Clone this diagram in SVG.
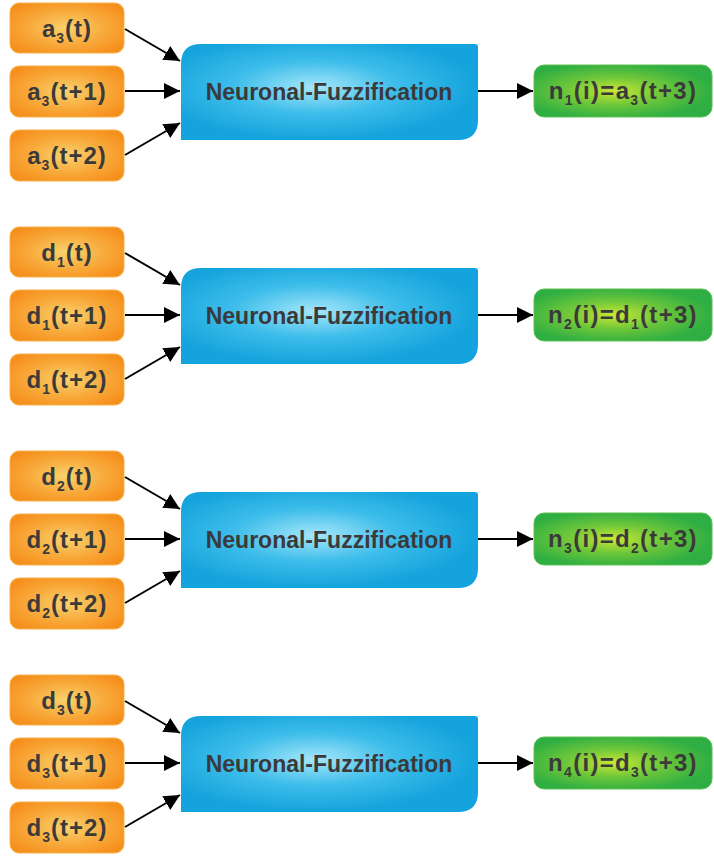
<svg xmlns="http://www.w3.org/2000/svg" width="714" height="858" viewBox="0 0 714 858">
<defs>
<radialGradient id="gOr" cx="50%" cy="50%" r="60%">
<stop offset="0" stop-color="#f9d36e"/>
<stop offset="0.55" stop-color="#f8aa3c"/>
<stop offset="1" stop-color="#f6901c"/>
</radialGradient>
<radialGradient id="gBl" cx="45%" cy="45%" r="55%">
<stop offset="0" stop-color="#a6e6fa"/>
<stop offset="0.5" stop-color="#3dbdea"/>
<stop offset="1" stop-color="#14a3dc"/>
</radialGradient>
<radialGradient id="gGr" cx="45%" cy="50%" r="55%">
<stop offset="0" stop-color="#c9e634"/>
<stop offset="0.5" stop-color="#6cc63a"/>
<stop offset="1" stop-color="#2eae43"/>
</radialGradient>
<marker id="ah" viewBox="0 0 10 10" refX="10" refY="5" markerWidth="8" markerHeight="8" markerUnits="strokeWidth" orient="auto">
<path d="M0,0 L10,5 L0,10 Z" fill="#000"/>
</marker>
<path id="blue" d="M181,64 Q181,44 201,44 L475,44 Q478,44 478,47 L478,120 Q478,140 458,140 L181,140 Z"/>
</defs>
<style>
.in{fill:url(#gOr);stroke:#f7b04a;stroke-width:1}
.bl{fill:url(#gBl)}
.gr{fill:url(#gGr);stroke:#5cc050;stroke-width:1}
text{font-family:"Liberation Sans",Arial,sans-serif;font-weight:bold;fill:#3a3a3a;text-anchor:middle}
.t{font-size:24px;letter-spacing:1px}
.o{font-size:24px;letter-spacing:1.3px}
.s{font-size:14px}
.nf{font-size:23px}
.c line{stroke:#000;stroke-width:2;marker-end:url(#ah)}
</style>

<g id="group1">
<g id="a3t"><rect class="in" x="10" y="3" width="114" height="50" rx="9"/><text class="t" x="67" y="37">a<tspan class="s" dy="6">3</tspan><tspan dy="-6">(t)</tspan></text></g>
<g id="a3t1"><rect class="in" x="10" y="66" width="114" height="51" rx="9"/><text class="t" x="67" y="100">a<tspan class="s" dy="6">3</tspan><tspan dy="-6">(t+1)</tspan></text></g>
<g id="a3t2"><rect class="in" x="10" y="130" width="114" height="51" rx="9"/><text class="t" x="67" y="164">a<tspan class="s" dy="6">3</tspan><tspan dy="-6">(t+2)</tspan></text></g>
<g id="nf1"><use href="#blue" class="bl"/><text class="nf" x="329" y="100">Neuronal-Fuzzification</text></g>
<g id="n1"><rect class="gr" x="534" y="65" width="178" height="52" rx="10"/><text class="o" x="623" y="99">n<tspan class="s" dy="6">1</tspan><tspan dy="-6">(i)=a</tspan><tspan class="s" dy="6">3</tspan><tspan dy="-6">(t+3)</tspan></text></g>
</g>

<g id="group2" transform="translate(0,224)">
<g id="d1t"><rect class="in" x="10" y="3" width="114" height="50" rx="9"/><text class="t" x="67" y="37">d<tspan class="s" dy="6">1</tspan><tspan dy="-6">(t)</tspan></text></g>
<g id="d1t1"><rect class="in" x="10" y="66" width="114" height="51" rx="9"/><text class="t" x="67" y="100">d<tspan class="s" dy="6">1</tspan><tspan dy="-6">(t+1)</tspan></text></g>
<g id="d1t2"><rect class="in" x="10" y="130" width="114" height="51" rx="9"/><text class="t" x="67" y="164">d<tspan class="s" dy="6">1</tspan><tspan dy="-6">(t+2)</tspan></text></g>
<g id="nf2"><use href="#blue" class="bl"/><text class="nf" x="329" y="100">Neuronal-Fuzzification</text></g>
<g id="n2"><rect class="gr" x="534" y="65" width="178" height="52" rx="10"/><text class="o" x="623" y="99">n<tspan class="s" dy="6">2</tspan><tspan dy="-6">(i)=d</tspan><tspan class="s" dy="6">1</tspan><tspan dy="-6">(t+3)</tspan></text></g>
</g>

<g id="group3" transform="translate(0,448)">
<g id="d2t"><rect class="in" x="10" y="3" width="114" height="50" rx="9"/><text class="t" x="67" y="37">d<tspan class="s" dy="6">2</tspan><tspan dy="-6">(t)</tspan></text></g>
<g id="d2t1"><rect class="in" x="10" y="66" width="114" height="51" rx="9"/><text class="t" x="67" y="100">d<tspan class="s" dy="6">2</tspan><tspan dy="-6">(t+1)</tspan></text></g>
<g id="d2t2"><rect class="in" x="10" y="130" width="114" height="51" rx="9"/><text class="t" x="67" y="164">d<tspan class="s" dy="6">2</tspan><tspan dy="-6">(t+2)</tspan></text></g>
<g id="nf3"><use href="#blue" class="bl"/><text class="nf" x="329" y="100">Neuronal-Fuzzification</text></g>
<g id="n3"><rect class="gr" x="534" y="65" width="178" height="52" rx="10"/><text class="o" x="623" y="99">n<tspan class="s" dy="6">3</tspan><tspan dy="-6">(i)=d</tspan><tspan class="s" dy="6">2</tspan><tspan dy="-6">(t+3)</tspan></text></g>
</g>

<g id="group4" transform="translate(0,672)">
<g id="d3t"><rect class="in" x="10" y="3" width="114" height="50" rx="9"/><text class="t" x="67" y="37">d<tspan class="s" dy="6">3</tspan><tspan dy="-6">(t)</tspan></text></g>
<g id="d3t1"><rect class="in" x="10" y="66" width="114" height="51" rx="9"/><text class="t" x="67" y="100">d<tspan class="s" dy="6">3</tspan><tspan dy="-6">(t+1)</tspan></text></g>
<g id="d3t2"><rect class="in" x="10" y="130" width="114" height="51" rx="9"/><text class="t" x="67" y="164">d<tspan class="s" dy="6">3</tspan><tspan dy="-6">(t+2)</tspan></text></g>
<g id="nf4"><use href="#blue" class="bl"/><text class="nf" x="329" y="100">Neuronal-Fuzzification</text></g>
<g id="n4"><rect class="gr" x="534" y="65" width="178" height="52" rx="10"/><text class="o" x="623" y="99">n<tspan class="s" dy="6">4</tspan><tspan dy="-6">(i)=d</tspan><tspan class="s" dy="6">3</tspan><tspan dy="-6">(t+3)</tspan></text></g>
</g>

<g id="connectors" class="c">
<line x1="125" y1="29" x2="180" y2="61"/>
<line x1="125" y1="91" x2="180" y2="91"/>
<line x1="125" y1="155" x2="180" y2="123"/>
<line x1="478" y1="91" x2="533" y2="91"/>
<line x1="125" y1="253" x2="180" y2="285"/>
<line x1="125" y1="315" x2="180" y2="315"/>
<line x1="125" y1="379" x2="180" y2="347"/>
<line x1="478" y1="315" x2="533" y2="315"/>
<line x1="125" y1="477" x2="180" y2="509"/>
<line x1="125" y1="539" x2="180" y2="539"/>
<line x1="125" y1="603" x2="180" y2="571"/>
<line x1="478" y1="539" x2="533" y2="539"/>
<line x1="125" y1="701" x2="180" y2="733"/>
<line x1="125" y1="763" x2="180" y2="763"/>
<line x1="125" y1="827" x2="180" y2="795"/>
<line x1="478" y1="763" x2="533" y2="763"/>
</g>
</svg>
